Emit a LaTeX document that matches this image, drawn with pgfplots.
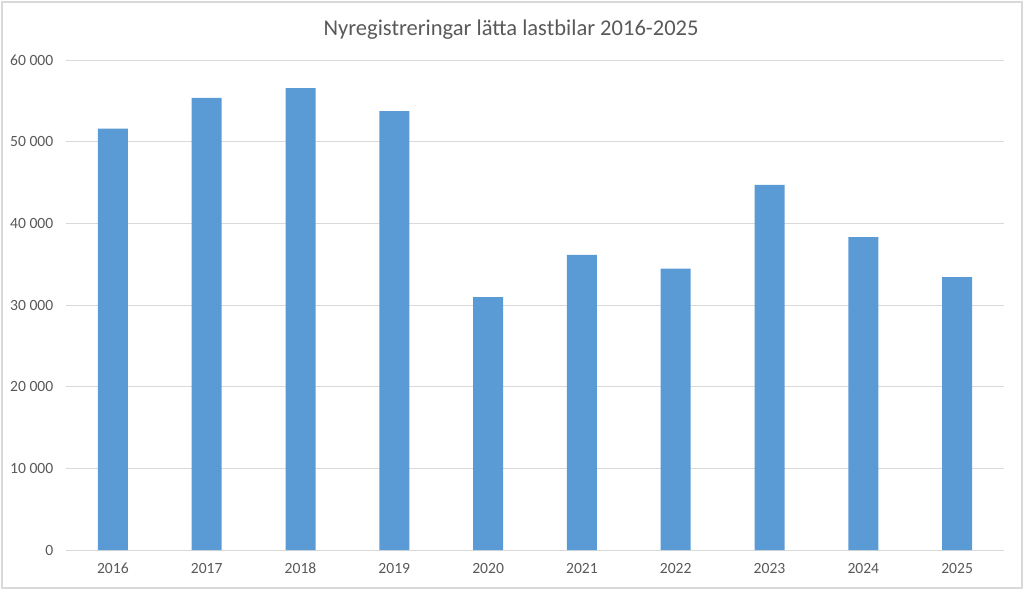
\documentclass[border=0pt]{standalone}
\usepackage{pgfplots}
\pgfplotsset{compat=1.18}
\usepackage{fontspec}
\setmainfont{Carlito}
\definecolor{barblue}{HTML}{5B9BD5}
\definecolor{gridgray}{HTML}{D9D9D9}
\definecolor{txtgray}{HTML}{595959}
\begin{document}
\begin{tikzpicture}[x=1pt,y=1pt]
\path[use as bounding box] (0,0) rectangle (768,442.5);
\draw[gridgray, line width=1pt] (1.5,1.5) rectangle (766.5,441);
\node[txtgray, font=\fontsize{16.9}{19}\selectfont] at (383.3,420) {Nyregistreringar lätta lastbilar 2016-2025};
\begin{axis}[
  at={(49.5pt,30pt)}, anchor=south west,
  scale only axis, width=703.5pt, height=367.5pt,
  xmin=-0.5, xmax=9.5, ymin=0, ymax=60000,
  axis line style={draw=none},
  tick style={draw=none},
  ymajorgrids, grid style={gridgray, line width=0.75pt},
  ytick={0,10000,20000,30000,40000,50000,60000},
  yticklabels={0,10 000,20 000,30 000,40 000,50 000,60 000},
  xtick=data,
  xticklabels={2016,2017,2018,2019,2020,2021,2022,2023,2024,2025},
  ticklabel style={txtgray, font=\fontsize{11.7}{14}\selectfont},
  yticklabel style={xshift=-6pt},
  xticklabel style={yshift=-6pt, text height=8pt, text depth=1pt},
  scaled y ticks=false,
]
\addplot[ybar, bar width=22.5pt, fill=barblue, draw=none] coordinates {
(0,51600) (1,55350) (2,56570) (3,53750) (4,30980) (5,36150) (6,34450) (7,44700) (8,38300) (9,33400)
};
\end{axis}
\end{tikzpicture}
\end{document}
